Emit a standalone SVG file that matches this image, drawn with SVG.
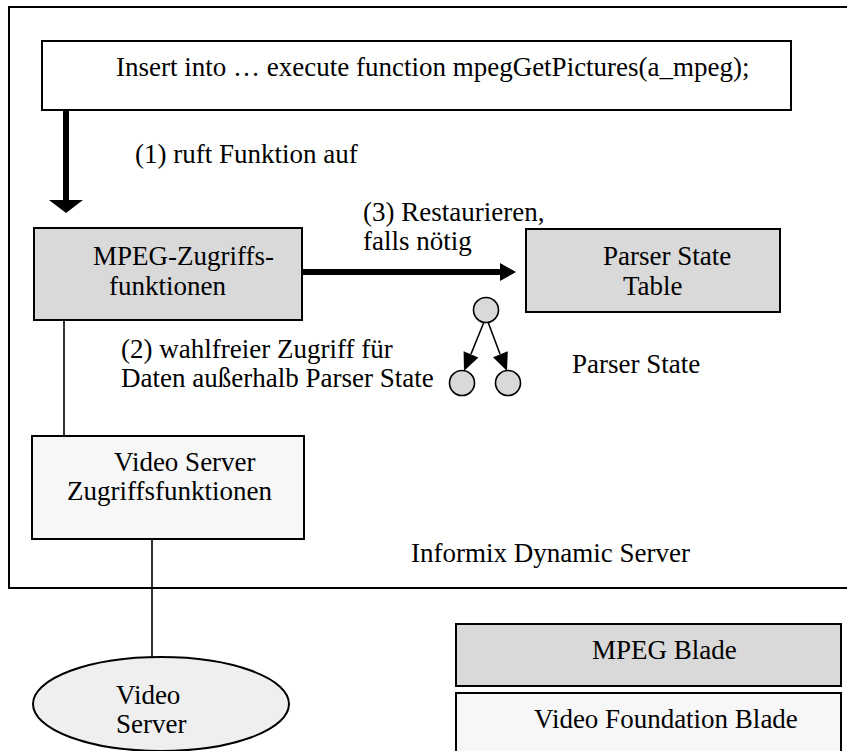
<svg xmlns="http://www.w3.org/2000/svg" width="847" height="751" viewBox="0 0 847 751">
  <style>
    text { font-family: "Liberation Serif", "Times New Roman", serif; font-size: 27px; fill: #000; }
    .box { stroke: #000; stroke-width: 2; }
    .gray { fill: #d9d9d9; }
    .light { fill: #f7f7f7; }
    .white { fill: #fff; }
    .thin { stroke: #000; stroke-width: 1.6; fill: none; }
    .thick { stroke: #000; stroke-width: 6; fill: none; }
  </style>
  <rect width="847" height="751" fill="#fff"/>
  <g id="informix-dynamic-server">
    <rect x="9" y="7" width="850" height="581" fill="none" stroke="#000" stroke-width="2"/>
    <text x="411" y="562">Informix Dynamic Server</text>
  </g>
  <g id="insert-statement">
    <rect class="box white" x="42" y="41" width="749" height="69"/>
    <text x="116" y="76">Insert into … execute function mpegGetPictures(a_mpeg);</text>
  </g>
  <g id="mpeg-zugriffsfunktionen">
    <rect class="box gray" x="34" y="228" width="268" height="92"/>
    <text x="93" y="265">MPEG-Zugriffs-</text>
    <text x="109" y="295">funktionen</text>
  </g>
  <g id="parser-state-table">
    <rect class="box gray" x="526" y="229" width="254" height="83"/>
    <text x="603" y="265">Parser State</text>
    <text x="623" y="295">Table</text>
  </g>
  <g id="parser-state">
    <circle cx="486" cy="310" r="12.5" fill="#d9d9d9" stroke="#000" stroke-width="1.6"/>
    <circle cx="462" cy="383" r="12.5" fill="#d9d9d9" stroke="#000" stroke-width="1.6"/>
    <circle cx="508" cy="383" r="12.5" fill="#d9d9d9" stroke="#000" stroke-width="1.6"/>
    <line class="thin" x1="484" y1="322" x2="471" y2="354"/>
    <polygon points="464,371 478.4,357.5 463.6,351.3" fill="#000"/>
    <line class="thin" x1="488" y1="322" x2="500" y2="354"/>
    <polygon points="507,371 507.8,351.3 493,357.2" fill="#000"/>
    <text x="572" y="373">Parser State</text>
  </g>
  <g id="video-server-zugriffsfunktionen">
    <rect class="box light" x="32" y="436" width="272" height="103"/>
    <text x="114" y="471">Video Server</text>
    <text x="67" y="500">Zugriffsfunktionen</text>
  </g>
  <g id="video-server">
    <ellipse cx="161" cy="704" rx="128" ry="47" fill="#efefef" stroke="#000" stroke-width="2"/>
    <text x="116" y="704">Video</text>
    <text x="116" y="733">Server</text>
  </g>
  <g id="mpeg-blade">
    <rect class="box gray" x="456" y="624" width="385" height="62"/>
    <text x="592" y="659">MPEG Blade</text>
  </g>
  <g id="video-foundation-blade">
    <rect class="box light" x="456" y="693" width="385" height="70"/>
    <text x="534" y="728">Video Foundation Blade</text>
  </g>
  <g id="connectors">
    <line class="thick" x1="66" y1="110" x2="66" y2="201"/>
    <polygon points="49,200 83,200 66,213" fill="#000"/>
    <text x="135" y="163">(1) ruft Funktion auf</text>
    <line class="thick" x1="302" y1="272" x2="501" y2="272"/>
    <polygon points="500,263 500,281 516,272" fill="#000"/>
    <text x="363" y="221">(3) Restaurieren,</text>
    <text x="363" y="250">falls nötig</text>
    <line class="thin" x1="64" y1="320" x2="64" y2="436"/>
    <text x="121" y="358">(2) wahlfreier Zugriff für</text>
    <text x="121" y="387">Daten außerhalb Parser State</text>
    <line class="thin" x1="152" y1="539" x2="152" y2="657"/>
  </g>
</svg>
